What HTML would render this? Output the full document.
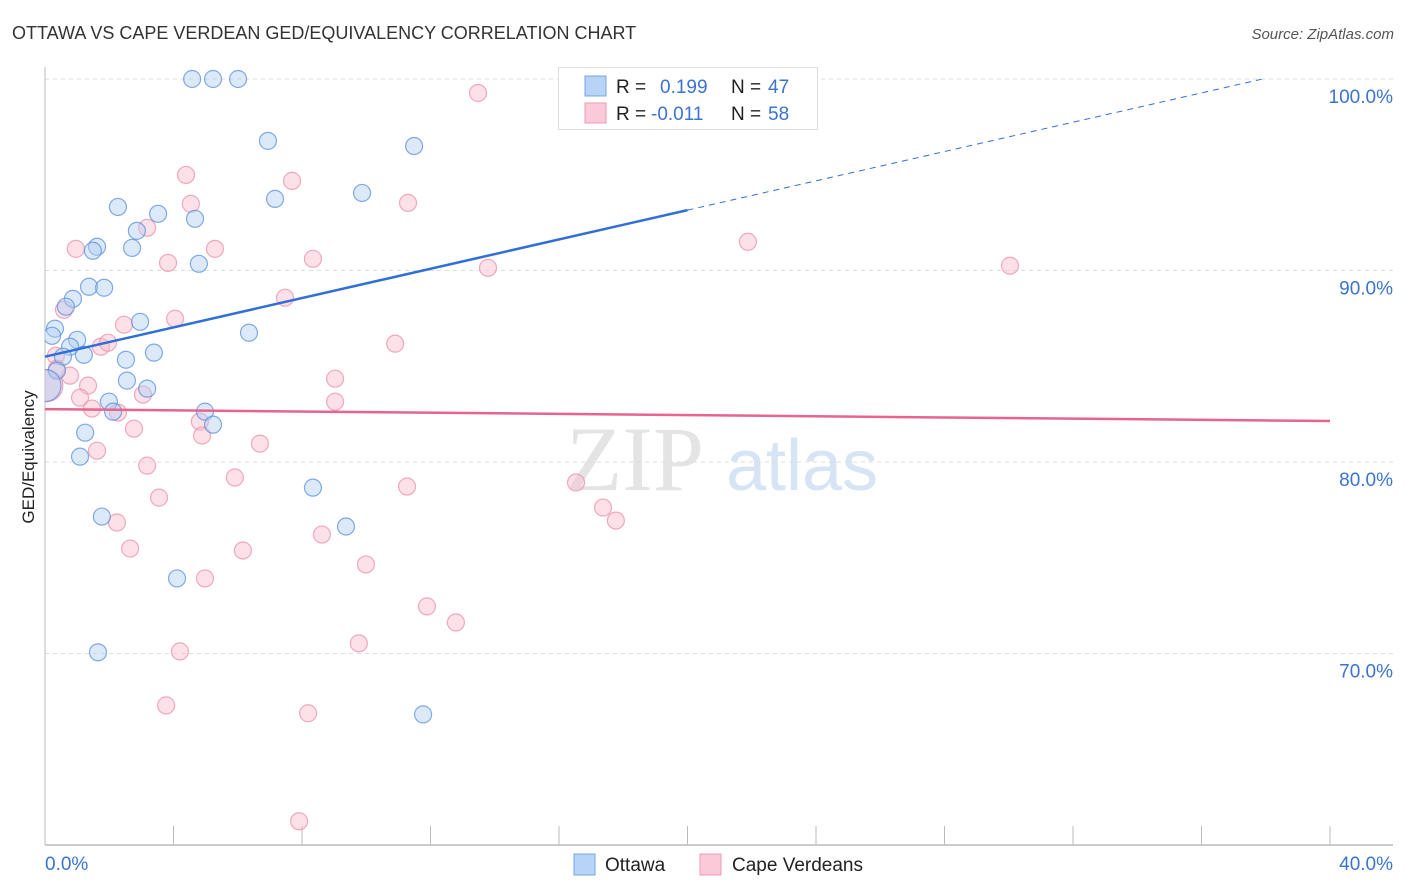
<!DOCTYPE html>
<html><head><meta charset="utf-8"><style>
body{margin:0;background:#fff;font-family:"Liberation Sans",sans-serif}
svg{display:block}
</style></head><body>
<svg id="chart" width="1406" height="892" xmlns="http://www.w3.org/2000/svg">
<defs><clipPath id="plotclip"><rect x="45" y="60" width="1360" height="785"/></clipPath></defs>
<text x="12" y="39" font-size="18" fill="#333">OTTAWA VS CAPE VERDEAN GED/EQUIVALENCY CORRELATION CHART</text>
<text x="1394" y="39" font-size="15" fill="#555" font-style="italic" text-anchor="end">Source: ZipAtlas.com</text>
<text transform="translate(34,457) rotate(-90)" font-size="17" fill="#222" text-anchor="middle">GED/Equivalency</text>
<g><text x="635" y="490" font-size="92" fill="#e4e4e4" font-family="Liberation Serif,serif" text-anchor="middle">ZIP</text><text x="802" y="490" font-size="72" fill="#d6e4f5" text-anchor="middle">atlas</text></g>
<g id="grid"></g><g id="axes"></g><g id="pts" clip-path="url(#plotclip)"></g><g id="lines"></g>
<g>
<rect x="558.5" y="67.5" width="259" height="62" fill="#fff" stroke="#ddd"/>
<rect x="585" y="76" width="21" height="20" fill="#b7d3f5" stroke="#7aa5e0"/>
<rect x="585" y="103" width="21" height="20" fill="#fbcad8" stroke="#ee9ab4"/>
<text x="616" y="93" font-size="19" fill="#222">R =</text><text x="660" y="93" font-size="19" fill="#3b73d1">0.199</text>
<text x="731" y="93" font-size="19" fill="#222">N =</text><text x="768" y="93" font-size="19" fill="#3b73d1">47</text>
<text x="616" y="120" font-size="19" fill="#222">R =</text><text x="651" y="120" font-size="19" fill="#3b73d1">-0.011</text>
<text x="731" y="120" font-size="19" fill="#222">N =</text><text x="768" y="120" font-size="19" fill="#3b73d1">58</text>
</g>
<g>
<rect x="574" y="854" width="21" height="21" fill="#b7d3f5" stroke="#7aa5e0"/>
<text x="605" y="871" font-size="19" fill="#222">Ottawa</text>
<rect x="700" y="854" width="21" height="21" fill="#fbcad8" stroke="#ee9ab4"/>
<text x="732" y="871" font-size="19" fill="#222">Cape Verdeans</text>
</g>
</svg>
<script>
const yTicks=[100,90,80,70];
const yTickLabels=["100.0%","90.0%","80.0%","70.0%"];
const xTicks=[0,4,8,12,16,20,24,28,32,36,40];
const xEndLabels=["0.0%","40.0%"];
const ottawaX=[4.58,5.23,6.01,6.94,11.49,7.16,9.87,2.27,3.52,4.67,1.62,1.49,2.86,2.71,4.79,1.37,1.84,0.87,0.65,2.96,0.31,0.22,1.0,0.78,1.21,0.56,3.39,6.35,2.52,2.55,0.37,3.18,1.99,2.12,4.98,5.23,1.25,1.09,8.34,1.77,9.37,4.11,1.65,11.77,20.0,0.0];
const ottawaY=[100,100,100,96.77,96.5,93.74,94.05,93.32,92.96,92.7,91.24,91.03,92.07,91.18,90.35,89.15,89.1,88.52,88.11,87.32,86.96,86.59,86.38,86.02,85.6,85.5,85.71,86.75,85.34,84.25,84.77,83.83,83.15,82.63,82.63,81.95,81.53,80.28,78.66,77.15,76.63,73.92,70.06,66.82,100,83.99];
const capeX=[13.48,4.39,7.69,4.54,11.3,3.18,0.96,5.29,3.83,8.34,13.79,21.88,30.04,7.47,0.59,4.05,2.46,1.74,1.96,10.9,0.34,0.78,1.34,9.03,3.05,1.09,1.46,2.27,9.03,4.82,4.89,2.77,6.69,1.62,3.18,5.91,3.55,11.27,16.53,17.37,17.77,2.24,2.65,6.16,8.62,9.99,4.98,11.89,12.79,9.77,4.2,3.77,8.19,7.91,0.06,0.37];
const capeY=[99.27,94.99,94.68,93.48,93.53,92.23,91.13,91.13,90.4,90.61,90.14,91.5,90.25,88.58,87.95,87.48,87.17,86.02,86.23,86.18,85.55,84.51,83.99,84.35,83.52,83.36,82.79,82.58,83.15,82.11,81.38,81.74,80.96,80.59,79.81,79.19,78.14,78.72,78.93,77.62,76.94,76.84,75.48,75.38,76.21,74.65,73.92,72.46,71.62,70.53,70.11,67.29,66.88,61.24,83.99,84.87];
const ottawaTrend=[85.5,100];
const ottawaTrendEndX=37.9, ottawaSolidEndX=20;
const capeTrend=[82.76,82.14];
const NS="http://www.w3.org/2000/svg";
const X=v=>45+v*(1285/40);
const Y=v=>79+(100-v)*19.15;
function mk(tag,attrs,parent){const e=document.createElementNS(NS,tag);for(const k in attrs)e.setAttribute(k,attrs[k]);document.getElementById(parent).appendChild(e);return e;}
yTicks.forEach((t,i)=>{
 const l=mk('line',{x1:45,x2:1393,y1:Y(t),y2:Y(t),stroke:'#ddd','stroke-dasharray':'4,4'},'grid');
 
 
 const tx=mk('text',{x:1393,y:Y(t)+24,'font-size':19,fill:'#3b73d1','text-anchor':'end'},'grid');
 tx.textContent=yTickLabels[i];
 
 
});
const ax=mk('line',{x1:45,x2:45,y1:67,y2:845,stroke:'#bbb'},'axes');


const bx=mk('line',{x1:45,x2:1393,y1:845,y2:845,stroke:'#bbb','stroke-width':1.5},'axes');


xTicks.forEach(t=>{const l=mk('line',{x1:X(t),x2:X(t),y1:826,y2:845,stroke:'#bbb'},'axes');
 
 });
[[0,'start',45],[40,'end',1393]].forEach((d,i)=>{const t=mk('text',{x:d[2],y:870,'font-size':19,fill:'#3b73d1','text-anchor':d[1]},'axes');t.textContent=xEndLabels[i];
 
 });
function pts(xs,ys,fill,stroke,name){xs.forEach((x,i)=>{const big=(x<0.1);const c=mk('circle',{cx:X(x),cy:Y(ys[i]),r:big?16:8.5,fill:fill,'fill-opacity':big?0.5:0.45,stroke:stroke,'stroke-width':1.2,'stroke-opacity':0.75},'pts');
 
 });}
pts(capeX,capeY,'#f8bccd','#ec8fab','cape-verdean-point');
pts(ottawaX,ottawaY,'#b2cef2','#5b8fdc','ottawa-point');
const slope=(ottawaTrend[1]-ottawaTrend[0])/ottawaTrendEndX;
const ol=mk('line',{x1:X(0),y1:Y(ottawaTrend[0]),x2:X(ottawaSolidEndX),y2:Y(ottawaTrend[0]+slope*ottawaSolidEndX),stroke:'#2f6fd6','stroke-width':2.5},'lines');


const od=mk('line',{x1:X(ottawaSolidEndX),y1:Y(ottawaTrend[0]+slope*ottawaSolidEndX),x2:X(ottawaTrendEndX),y2:Y(ottawaTrend[1]),stroke:'#2f6fd6','stroke-width':1,'stroke-dasharray':'6,5'},'lines');


const cl=mk('line',{x1:X(0),y1:Y(capeTrend[0]),x2:X(40),y2:Y(capeTrend[1]),stroke:'#e8648f','stroke-width':2.5},'lines');


</script>
</body></html>
